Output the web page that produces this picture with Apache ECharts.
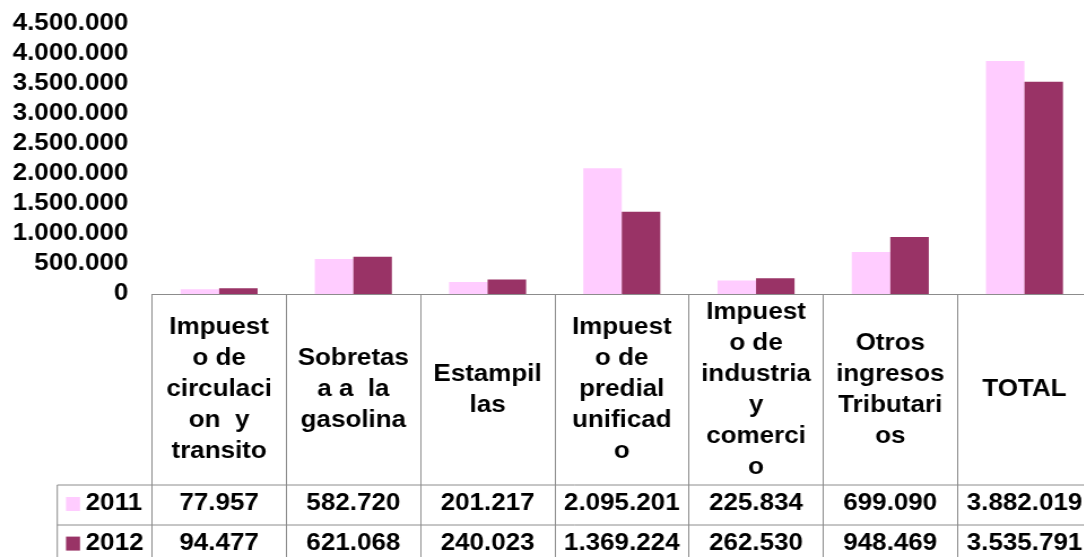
<!DOCTYPE html>
<html>
<head>
<meta charset="utf-8">
<script src="https://cdn.jsdelivr.net/npm/echarts@6/dist/echarts.min.js"></script>
<style>
  html, body { margin: 0; padding: 0; overflow: hidden; background: #fff; width: 1084px; height: 557px; }
  #chart { position: absolute; left: 0; top: 0; width: 966px; height: 557px; transform: scaleX(1.13); transform-origin: 0 0; }
</style>
</head>
<body>
<div id="chart"></div>
<script>
// ---- data ----
const categories = [
  'Impuest\no de\ncirculaci\non  y\ntransito',
  'Sobretas\na a  la\ngasolina',
  'Estampil\nlas',
  'Impuest\no de\npredial\nunificad\no',
  'Impuest\no de\nindustria\ny\ncomerci\no',
  'Otros\ningresos\nTributari\nos',
  'TOTAL'
];
const seriesNames = ['2011', '2012'];
const values2011 = [77957, 582720, 201217, 2095201, 225834, 699090, 3882019];
const values2012 = [94477, 621068, 240023, 1369224, 262530, 948469, 3535791];
const yTicks = [0, 500000, 1000000, 1500000, 2000000, 2500000, 3000000, 3500000, 4000000, 4500000];

// ---- styling ----
const FONT = "'Liberation Sans', Arial, sans-serif";
const GRID_LINE = '#8c8c8c';
const C2011 = '#FFCCFF';
const C2012 = '#993366';
const SX = 1.13; // horizontal stretch applied to the container

function fmt(v) {
  return String(v).replace(/\B(?=(\d{3})+(?!\d))/g, '.');
}

const labelBase = {
  fontFamily: FONT, fontSize: 23, fontWeight: 'bold', color: '#000'
};

const chart = echarts.init(document.getElementById('chart'), null, { renderer: 'canvas' });

const gridLeft = 152 / SX;
const leftBorder = 57.3 / SX;
const W = 966;

chart.setOption({
  animation: false,
  grid: { left: gridLeft, right: 0, top: 24, bottom: 263, outerBoundsMode: 'none', containLabel: false },
  legend: {
    orient: 'vertical',
    left: 66 / SX,
    top: 492.5,
    height: 100,
    padding: 0,
    itemGap: 16.6,
    itemWidth: 14 / SX,
    itemHeight: 14,
    selectedMode: false,
    icon: 'rect',
    textStyle: Object.assign({ lineHeight: 23 }, labelBase),
    data: seriesNames
  },
  xAxis: [
    {
      type: 'category',
      data: categories,
      position: 'bottom',
      boundaryGap: true,
      axisLine: { show: true, lineStyle: { color: GRID_LINE, width: 1 } },
      axisTick: { show: true, length: 270, interval: 0, lineStyle: { color: GRID_LINE, width: 1 } },
      axisLabel: Object.assign({ interval: 0, margin: 96, lineHeight: 31, align: 'center', verticalAlign: 'middle' }, labelBase),
      splitLine: { show: false }
    },
    {
      type: 'category',
      data: values2011.map(fmt),
      position: 'bottom',
      offset: 0,
      axisLine: { show: false },
      axisTick: { show: false },
      axisLabel: Object.assign({ interval: 0, margin: 210, align: 'center', verticalAlign: 'middle' }, labelBase),
      splitLine: { show: false }
    },
    {
      type: 'category',
      data: values2012.map(fmt),
      position: 'bottom',
      offset: 0,
      axisLine: { show: false },
      axisTick: { show: false },
      axisLabel: Object.assign({ interval: 0, margin: 249.5, align: 'center', verticalAlign: 'middle' }, labelBase),
      splitLine: { show: false }
    }
  ],
  yAxis: {
    type: 'value',
    min: yTicks[0],
    max: yTicks[yTicks.length - 1],
    interval: yTicks[1] - yTicks[0],
    axisLine: { show: false },
    axisTick: { show: false },
    splitLine: { show: false },
    axisLabel: Object.assign({ margin: 21, formatter: fmt }, labelBase)
  },
  series: [
    {
      name: seriesNames[0], type: 'bar', xAxisIndex: 0, data: values2011,
      itemStyle: { color: C2011 }, barGap: '0%', barCategoryGap: '42.6%'
    },
    {
      name: seriesNames[1], type: 'bar', xAxisIndex: 0, data: values2012,
      itemStyle: { color: C2012 }, barGap: '0%', barCategoryGap: '42.6%'
    }
  ],
  graphic: [
    { type: 'line', shape: { x1: leftBorder, y1: 485, x2: W, y2: 485 }, style: { stroke: GRID_LINE, lineWidth: 1 } },
    { type: 'line', shape: { x1: leftBorder, y1: 525, x2: W, y2: 525 }, style: { stroke: GRID_LINE, lineWidth: 1 } },
    { type: 'line', shape: { x1: leftBorder, y1: 485, x2: leftBorder, y2: 560 }, style: { stroke: GRID_LINE, lineWidth: 1 } }
  ]
});
</script>
</body>
</html>
